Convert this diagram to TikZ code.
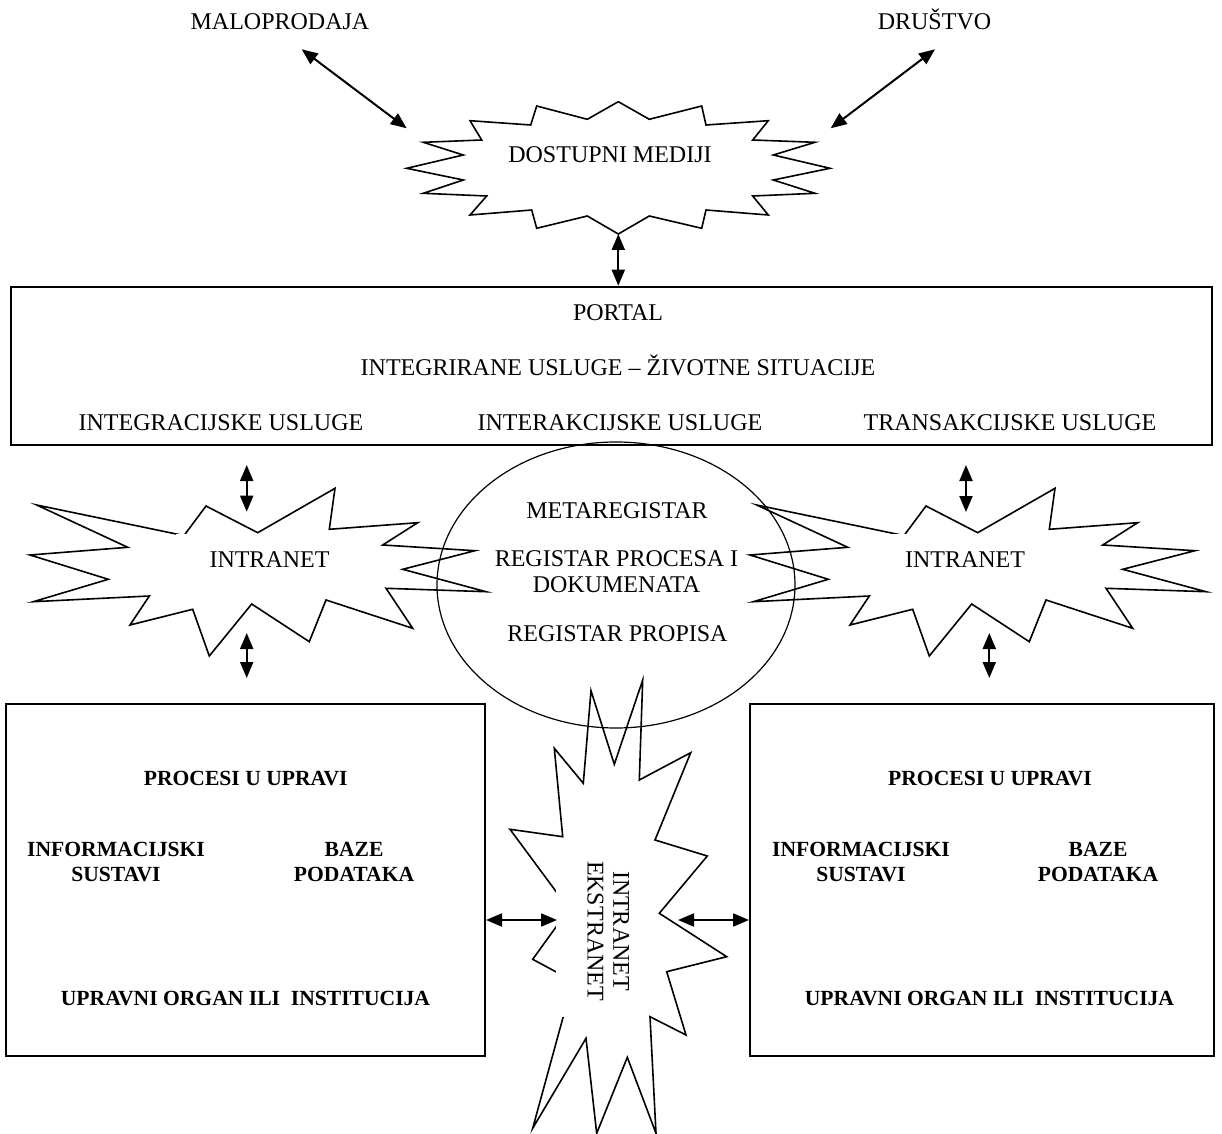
\documentclass[tikz,border=0pt]{standalone}
\usepackage{fontspec}
\setmainfont{Liberation Serif}
\usetikzlibrary{arrows.meta,shapes.geometric}

\tikzset{
  lbl/.style={font=\fontsize{12}{13}\selectfont, inner sep=0pt, anchor=base},
  blbl/.style={lbl, font=\fontsize{10.8}{12.9}\selectfont\bfseries},
  dblarrow/.style={{Triangle[length=8pt,width=6.5pt]}-{Triangle[length=8pt,width=6.5pt]}, line width=1pt},
  zigzag/.style={draw, line width=0.8pt, line join=miter, miter limit=25},
  panel/.style={draw, line width=1pt, inner sep=0pt},
}

\begin{document}
\begin{tikzpicture}[x=0.5pt,y=-0.5pt]
\useasboundingbox (0,0) rectangle (1222,1134);

\node[lbl] (malo) at (280,30) {MALOPRODAJA};
\node[lbl] (drustvo) at (934.5,30) {DRUŠTVO};

\draw[zigzag] (618.3,101.7) -- (649.3,119.3) -- (701.7,106) -- (706,125) -- (768.3,120.7) -- (752.7,140)
  -- (815,142.3) -- (773.3,155) -- (830,168.3) -- (773.3,180) -- (815,193.3) -- (752.7,196)
  -- (768.3,215) -- (706,210) -- (701.7,228.3) -- (649.3,216) -- (618.3,234) -- (587.3,216)
  -- (536.7,228.3) -- (531.7,210) -- (470,215) -- (486.7,196) -- (423.3,193.3) -- (463.3,180)
  -- (406.7,168.3) -- (463.3,155) -- (423.3,142.3) -- (481.7,140) -- (470,120.7) -- (530.7,125)
  -- (536.7,106) -- (587.3,119.3) -- cycle;
\node[lbl] (mediji) at (610,162.7) {DOSTUPNI MEDIJI};

\coordinate (maloTip) at (301.7,49.3);
\coordinate (medijiNW) at (406.7,128.3);
\coordinate (drustvoTip) at (935,49.3);
\coordinate (medijiNE) at (830.7,128.3);
\coordinate (medijiS) at (618.3,234);
\draw[dblarrow] (maloTip) -- (medijiNW);
\draw[dblarrow] (drustvoTip) -- (medijiNE);

\node[panel, minimum width=600.65pt, minimum height=79.15pt] (portal) at (611.35,365.85) {};
\draw[dblarrow] (medijiS) -- (portal.north -| medijiS);
\node[lbl] (portalTxt) at (618,321) {PORTAL};
\node[lbl] (integrirane) at (618,376) {INTEGRIRANE USLUGE – ŽIVOTNE SITUACIJE};
\node[lbl] (integracijske) at (221,430) {INTEGRACIJSKE USLUGE};
\node[lbl] (interakcijske) at (620,430) {INTERAKCIJSKE USLUGE};
\node[lbl] (transakcijske) at (1010,430) {TRANSAKCIJSKE USLUGE};

\foreach \dx/\side/\tx in {0/L/269.5,720/R/245}{
  \begin{scope}[shift={(\dx,0)}]
    \draw[zigzag] (36.7,505) -- (184,535.6) -- (206,506) -- (257.7,532.7) -- (335,488.3) -- (329.3,529.3)
      -- (417.7,522.7) -- (382.7,545) -- (475,550.7) -- (402.7,569.3) -- (486,591.7) -- (386,588.3)
      -- (412.7,628.3) -- (326,600) -- (309.3,641.7) -- (251.7,604) -- (209.3,656) -- (192.7,609.3)
      -- (130,625) -- (149.3,596) -- (33.3,601.7) -- (108.3,579.3) -- (30,555) -- (127.7,547.3) -- cycle;
    \node[lbl, anchor=center, fill=white, minimum width=93.5pt, minimum height=25.5pt] (intranet\side) at (\tx,559.3) {INTRANET};
  \end{scope}
}

\coordinate (lt1) at (246.7,465);
\coordinate (lt2) at (246.7,511.7);
\coordinate (lb1) at (246.7,633);
\coordinate (lb2) at (246.7,678);
\coordinate (rt1) at (966,465);
\coordinate (rt2) at (966,512);
\coordinate (rb1) at (989.3,633);
\coordinate (rb2) at (989.3,678);
\draw[dblarrow] (lt1) -- (lt2);
\draw[dblarrow] (lb1) -- (lb2);
\draw[dblarrow] (rt1) -- (rt2);
\draw[dblarrow] (rb1) -- (rb2);

\node[draw, ellipse, line width=0.6pt, inner sep=0pt, minimum width=179pt, minimum height=143pt] (registri) at (616,585) {};
\node[lbl] (metaregistar) at (617,518.3) {METAREGISTAR};
\node[lbl, anchor=center, align=center] (procesi) at (616.5,571.7) {REGISTAR PROCESA I\\DOKUMENATA};
\node[lbl] (propisi) at (617.5,641.7) {REGISTAR PROPISA};

\draw[zigzag] (591,690.7) -- (614.3,764.3) -- (642.7,680) -- (639.3,780) -- (690.7,752.7) -- (655,840)
  -- (707.3,856) -- (659.3,913.3) -- (726.7,956.7) -- (666.7,971.7) -- (686,1035) -- (650,1016.7)
  -- (656,1133.3) -- (627.3,1057.3) -- (596.7,1133.3) -- (586,1038.3) -- (532.7,1128.3) -- (573,981)
  -- (532.7,959.3) -- (569,909) -- (510,829.3) -- (562.7,836.7) -- (554.3,748.3) -- (583.3,783.3) -- cycle;
\fill[white] (556,860) rectangle (646,1016.7);
\node[lbl, anchor=center, align=center, rotate=-90] (mreza) at (608.3,931) {INTRANET\\EKSTRANET};

\node[panel, minimum width=239.5pt, minimum height=176pt] (uprava1) at (245.5,880) {};
\node[panel, minimum width=232pt, minimum height=176pt] (uprava2) at (982,880) {};

\coordinate (mrezaW) at (557,920);
\coordinate (mrezaE) at (678,920);
\draw[dblarrow] (uprava1.east |- mrezaW) -- (mrezaW);
\draw[dblarrow] (mrezaE) -- (uprava2.west |- mrezaE);

\node[blbl] (procesi1) at (245.7,785) {PROCESI U UPRAVI};
\node[blbl, anchor=center, align=center] (sustavi1) at (116,862) {INFORMACIJSKI\\SUSTAVI};
\node[blbl, anchor=center, align=center] (baze1) at (354,862) {BAZE\\PODATAKA};
\node[blbl] (organ1) at (245.5,1005) {UPRAVNI ORGAN ILI\ \ INSTITUCIJA};

\node[blbl] (procesi2) at (990,785) {PROCESI U UPRAVI};
\node[blbl, anchor=center, align=center] (sustavi2) at (861,862) {INFORMACIJSKI\\SUSTAVI};
\node[blbl, anchor=center, align=center] (baze2) at (1098,862) {BAZE\\PODATAKA};
\node[blbl] (organ2) at (989.5,1005) {UPRAVNI ORGAN ILI\ \ INSTITUCIJA};
\end{tikzpicture}
\end{document}
